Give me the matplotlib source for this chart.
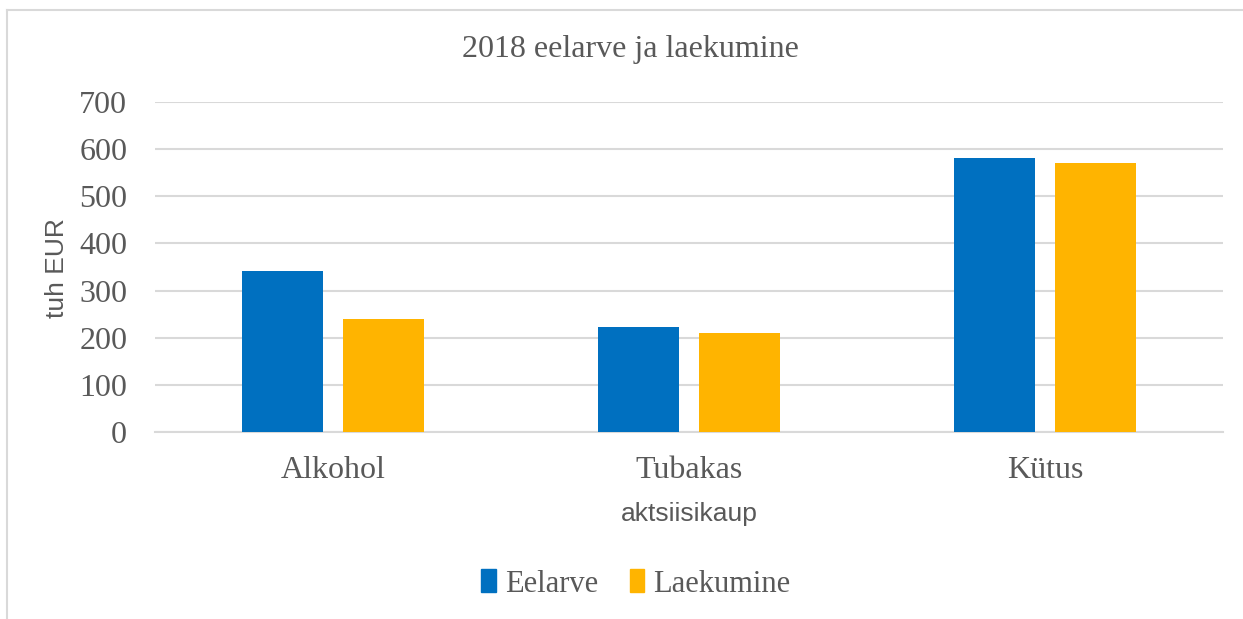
import matplotlib
matplotlib.use("Agg")
import matplotlib.pyplot as plt
from matplotlib.patches import Rectangle
from matplotlib.lines import Line2D
import numpy as np

categories = ["Alkohol", "Tubakas", "Kütus"]
eelarve = [341, 223, 581]
laekumine = [240, 209, 571]
series_names = ["Eelarve", "Laekumine"]
yticks = [0, 100, 200, 300, 400, 500, 600, 700]

BLUE = "#0070C0"
GOLD = "#FFB400"
TXT = "#595959"
GRID = "#D9D9D9"
SERIF = "Liberation Serif"
SANS = "Liberation Sans"

W, H = 1243, 619
fig = plt.figure(figsize=(W / 100, H / 100), dpi=100)

# axes placement in pixels
x0, x1 = 155, 1223
y_top, y_bot = 102, 432
ax = fig.add_axes([x0 / W, 1 - y_bot / H, (x1 - x0) / W, (y_bot - y_top) / H])

x = np.arange(len(categories))
bw = 0.228
off = 0.142
ax.bar(x - off, eelarve, width=bw, color=BLUE, zorder=3)
ax.bar(x + off, laekumine, width=bw, color=GOLD, zorder=3)

ax.set_xlim(-0.5, len(categories) - 0.5)
ax.set_ylim(0, 700)
ax.set_yticks(yticks)
ax.set_yticklabels([str(v) for v in yticks], fontfamily=SERIF, fontsize=23, color=TXT)
ax.set_xticks(x)
ax.set_xticklabels(categories, fontfamily=SERIF, fontsize=23, color=TXT)
ax.tick_params(axis="both", length=0)
ax.tick_params(axis="y", pad=20)
ax.tick_params(axis="x", pad=17)
ax.grid(axis="y", color=GRID, linewidth=1.5, zorder=0)
for s in ["top", "right", "left"]:
    ax.spines[s].set_visible(False)
ax.spines["bottom"].set_color(GRID)
ax.spines["bottom"].set_linewidth(1.5)

fig.text(57 / W, 1 - 268 / H, "tuh EUR", rotation=90, ha="center", va="center",
         fontfamily=SANS, fontsize=19, color=TXT)
fig.text((x0 + x1) / 2 / W, 1 - 514 / H, "aktsiisikaup", ha="center", va="center",
         fontfamily=SANS, fontsize=19, color=TXT)

fig.text(630 / W, 1 - 49 / H, "2018 eelarve ja laekumine",
         ha="center", va="center", fontfamily=SERIF, fontsize=23, color=TXT)

handles = [Rectangle((0, 0), 1, 1, color=BLUE), Rectangle((0, 0), 1, 1, color=GOLD)]
leg = fig.legend(handles, series_names, loc="center", bbox_to_anchor=(636 / W, 1 - 584 / H),
                 ncol=2, frameon=False, prop={"family": SERIF, "size": 22},
                 handlelength=0.47, handleheight=0.78, handletextpad=0.3, columnspacing=1.05)
for t in leg.get_texts():
    t.set_color(TXT)

# outer chart frame
fig.add_artist(Line2D([7 / W, 7 / W], [0, 1 - 10 / H], transform=fig.transFigure, color=GRID, linewidth=1.5))
fig.add_artist(Line2D([7 / W, 1], [1 - 10 / H, 1 - 10 / H], transform=fig.transFigure, color=GRID, linewidth=1.5))

fig.savefig("out.png", dpi=100)
